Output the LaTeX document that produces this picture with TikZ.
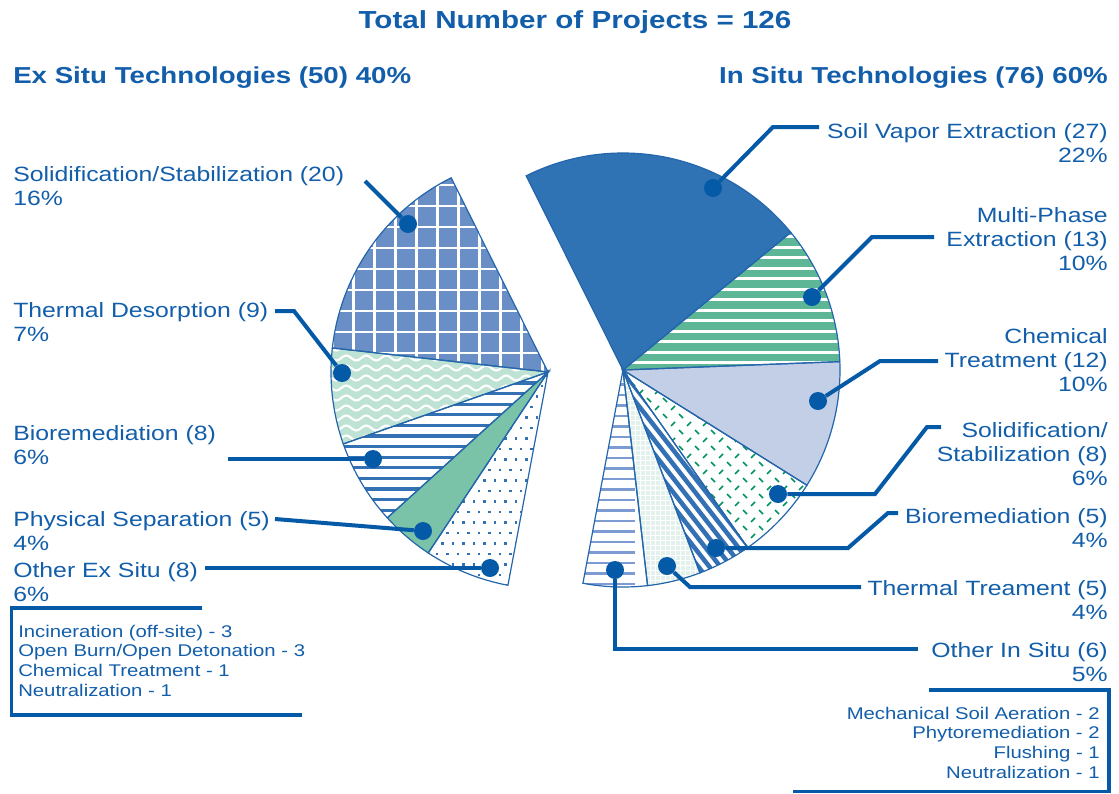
\documentclass[tikz,border=0pt]{standalone}
\usepackage{fontspec}
\setmainfont[FakeStretch=1.2]{Liberation Sans}
\usetikzlibrary{decorations.pathmorphing}

\definecolor{txtblue}{RGB}{18,94,170}
\definecolor{leadblue}{RGB}{5,90,168}
\definecolor{rimblue}{RGB}{35,102,172}
\definecolor{svefill}{RGB}{47,115,180}
\definecolor{mpefill}{RGB}{93,183,150}
\definecolor{chemfill}{RGB}{194,207,231}
\definecolor{ssmark}{RGB}{0,150,100}
\definecolor{biostripe}{RGB}{52,112,180}
\definecolor{thermfill}{RGB}{226,241,235}
\definecolor{othstripe}{RGB}{123,155,210}
\definecolor{gridfill}{RGB}{106,142,198}
\definecolor{tdfill}{RGB}{190,226,211}
\definecolor{psfill}{RGB}{122,195,168}

\tikzset{
    wedge/.style n args={3}{insert path={(#1) -- ++(#2:217) arc[start angle=#2, end angle=#3, radius=217] -- cycle}},
    rim/.style={draw=rimblue, line width=0.9pt},
    lead/.style={draw=leadblue, line width=3pt},
    blob/.style={circle, fill=leadblue, inner sep=0pt, minimum size=13.5pt},
    lbl/.style={text=txtblue, inner sep=0pt, text width=10cm, font=\fontsize{15.5}{18}\selectfont},
    lft/.style={lbl, align=left, anchor=base west},
    rgt/.style={lbl, align=right, anchor=base east},
    lgd/.style={text=txtblue, inner sep=0pt, text width=8cm, font=\fontsize{12.7}{14.8}\selectfont},
    head/.style={text=txtblue, inner sep=0pt, font=\bfseries\fontsize{17.3}{20}\selectfont},
}

\begin{document}
\begin{tikzpicture}[x=0.75pt, y=0.75pt]
    \useasboundingbox (0,0) rectangle (1119,-793);
    \coordinate (cL) at (548,-372);
    \coordinate (cR) at (623,-370);

    \fill[svefill, wedge={cR}{116.5}{39.357}];
    \begin{scope}
        \clip[wedge={cR}{39.357}{2.214}];
        \fill[mpefill] (600,-200) rectangle (850,-380);
        \foreach \k in {0,...,16}
            \draw[white, line width=2pt] (600,{-(205.2+10.5*\k)}) -- ++(260,0);
    \end{scope}
    \fill[chemfill, wedge={cR}{2.214}{-32.071}];
    \begin{scope}
        \clip[wedge={cR}{-32.071}{-54.929}];
        \foreach \i in {0,...,12}
            \foreach \j in {0,...,13} {
                \draw[ssmark, line width=1.1pt] ({615+16*\i},{-(366+16*\j)}) -- ++(4,-4);
                \draw[ssmark, line width=1.1pt] ({623+16*\i},{-(378+16*\j)}) -- ++(4,4);
            }
    \end{scope}
    \begin{scope}
        \clip[wedge={cR}{-54.929}{-69.214}];
        \foreach \k in {0,...,34}
            \draw[biostripe, line width=3.4pt] ({380+11*\k},-300) -- ++(-52:420);
    \end{scope}
    \begin{scope}
        \clip[wedge={cR}{-69.214}{-83.5}];
        \fill[thermfill] (600,-360) rectangle (720,-600);
        \foreach \k in {0,...,24}
            \draw[white, line width=0.6pt] ({600+5*\k},-360) -- ++(0,-240);
        \foreach \k in {0,...,48}
            \draw[white, line width=0.6pt] (600,{-(365+5*\k)}) -- ++(120,0);
    \end{scope}
    \begin{scope}
        \clip[wedge={cR}{-83.5}{-100.643}];
        \foreach \k in {0,...,21}
            \draw[othstripe, line width=2.2pt] (575,{-(374+10.5*\k)}) -- ++(60,0);
    \end{scope}

    \begin{scope}
        \clip[wedge={cL}{116.5}{173.643}];
        \fill[gridfill] (320,-170) rectangle (555,-380);
        \foreach \k in {-2,...,10}
            \draw[white, line width=2pt] ({353.3+21*\k},-160) -- ++(0,-240);
        \foreach \k in {-2,...,9}
            \draw[white, line width=2pt] (310,{-(206+21*\k)}) -- ++(260,0);
    \end{scope}
    \begin{scope}
        \clip[wedge={cL}{173.643}{199.357}];
        \fill[tdfill] (320,-330) rectangle (555,-460);
        \foreach \k in {0,...,12}
            \draw[white, line width=1.6pt, decorate, decoration={snake, amplitude=1.9pt, segment length=15pt}]
                (320,{-(338+10*\k)}) -- (560,{-(338+10*\k)});
    \end{scope}
    \begin{scope}
        \clip[wedge={cL}{199.357}{222.214}];
        \foreach \k in {-1,...,15}
            \draw[biostripe, line width=2.5pt] (330,{-(383+10.6*\k)}) -- ++(230,0);
    \end{scope}
    \fill[psfill, wedge={cL}{222.214}{236.5}];
    \begin{scope}
        \clip[wedge={cL}{236.5}{259.357}];
        \foreach \i in {0,...,14}
            \foreach \j in {0,...,21}
                \fill[biostripe] ({420+10.5*\i+5.25*mod(\j,2)},{-(374+10.5*\j)}) rectangle ++(2.6,-2.6);
    \end{scope}

    \foreach \a/\b in {116.5/39.357, 39.357/2.214, 2.214/-32.071, -32.071/-54.929, -54.929/-69.214, -69.214/-83.5, -83.5/-100.643}
        \draw[rim, wedge={cR}{\a}{\b}];
    \foreach \a/\b in {116.5/173.643, 173.643/199.357, 199.357/222.214, 222.214/236.5, 236.5/259.357}
        \draw[rim, wedge={cL}{\a}{\b}];

    \node[head, anchor=base, font=\bfseries\fontsize{18.5}{22}\selectfont] (title) at (575,-28) {Total Number of Projects = 126};
    \node[head, anchor=base west] (exH) at (13,-83) {Ex Situ Technologies (50) 40\%};
    \node[head, anchor=base east] (inH) at (1108,-83) {In Situ Technologies (76) 60\%};

    \node[lft] (ssL) at (13,-181) {Solidification/Stabilization (20)\\16\%};
    \node[lft] (tdL) at (13,-317) {Thermal Desorption (9)\\7\%};
    \node[lft] (bioL) at (13,-440) {Bioremediation (8)\\6\%};
    \node[lft] (psL) at (13,-526) {Physical Separation (5)\\4\%};
    \node[lft] (othL) at (13,-577) {Other Ex Situ (8)\\6\%};

    \node[rgt] (sveR) at (1108,-138) {Soil Vapor Extraction (27)\\22\%};
    \node[rgt] (mpeR) at (1108,-222) {Multi-Phase\\Extraction (13)\\10\%};
    \node[rgt] (chemR) at (1108,-343) {Chemical\\Treatment (12)\\10\%};
    \node[rgt] (ssR) at (1108,-437) {Solidification/\\Stabilization (8)\\6\%};
    \node[rgt] (bioR) at (1108,-523) {Bioremediation (5)\\4\%};
    \node[rgt] (thR) at (1108,-595) {Thermal Treament (5)\\4\%};
    \node[rgt] (othR) at (1108,-657) {Other In Situ (6)\\5\%};

    \node[lgd, align=left, anchor=base west] (exLeg) at (18,-637) {Incineration (off-site) - 3\\Open Burn/Open Detonation - 3\\Chemical Treatment - 1\\Neutralization - 1};
    \node[lgd, align=right, anchor=base east] (inLeg) at (1100,-719) {Mechanical Soil Aeration - 2\\Phytoremediation - 2\\Flushing - 1\\Neutralization - 1};
    \draw[draw=leadblue, line width=2.5pt] (202,-608) -- (11.5,-608) -- (11.5,-715) -- (302,-715);
    \draw[draw=leadblue, line width=2.5pt] (929,-690) -- (1109,-690) -- (1109,-791.5) -- (793,-791.5);

    \begin{scope}[every node/.style={blob}]
        \node (ssLd) at (408,-224) {};
        \node (tdLd) at (342,-373) {};
        \node (bioLd) at (373,-459) {};
        \node (psLd) at (423,-531) {};
        \node (othLd) at (490,-568) {};
        \node (sveRd) at (713,-188) {};
        \node (mpeRd) at (812,-297) {};
        \node (chemRd) at (818,-401) {};
        \node (ssRd) at (778,-494) {};
        \node (bioRd) at (716,-548) {};
        \node (thRd) at (667,-566) {};
        \node (othRd) at (615,-570) {};
    \end{scope}

    \coordinate (ssLe) at (365,-181);
    \coordinate (tdLe) at (275,-311);
    \coordinate (bioLe) at (228,-459);
    \coordinate (psLe) at (275,-519);
    \coordinate (othLe) at (205,-568);
    \coordinate (sveRe) at (819,-127);
    \coordinate (mpeRe) at (934,-237);
    \coordinate (chemRe) at (938,-361);
    \coordinate (ssRe) at (941,-427);
    \coordinate (bioRe) at (898,-513);
    \coordinate (thRe) at (861,-587);
    \coordinate (othRe) at (918,-649);

    \draw[lead] (ssLe) -- (ssLd);
    \draw[lead] (tdLe) -- ++(19,0) -- (tdLd);
    \draw[lead] (bioLe) -- (bioLd);
    \draw[lead] (psLe) -- (psLd);
    \draw[lead] (othLe) -- (othLd);
    \draw[lead] (sveRe) -- ++(-46,0) -- (sveRd);
    \draw[lead] (mpeRe) -- ++(-62,0) -- (mpeRd);
    \draw[lead] (chemRe) -- ++(-58,0) -- (chemRd);
    \draw[lead] (ssRe) -- ++(-14,0) -- ++(-52,-67) -- (ssRd);
    \draw[lead] (bioRe) -- ++(-10,0) -- ++(-40,-35) -- (bioRd);
    \draw[lead] (thRe) -- ++(-171,0) -- (thRd);
    \draw[lead] (othRe) -| (othRd);
\end{tikzpicture}
\end{document}
